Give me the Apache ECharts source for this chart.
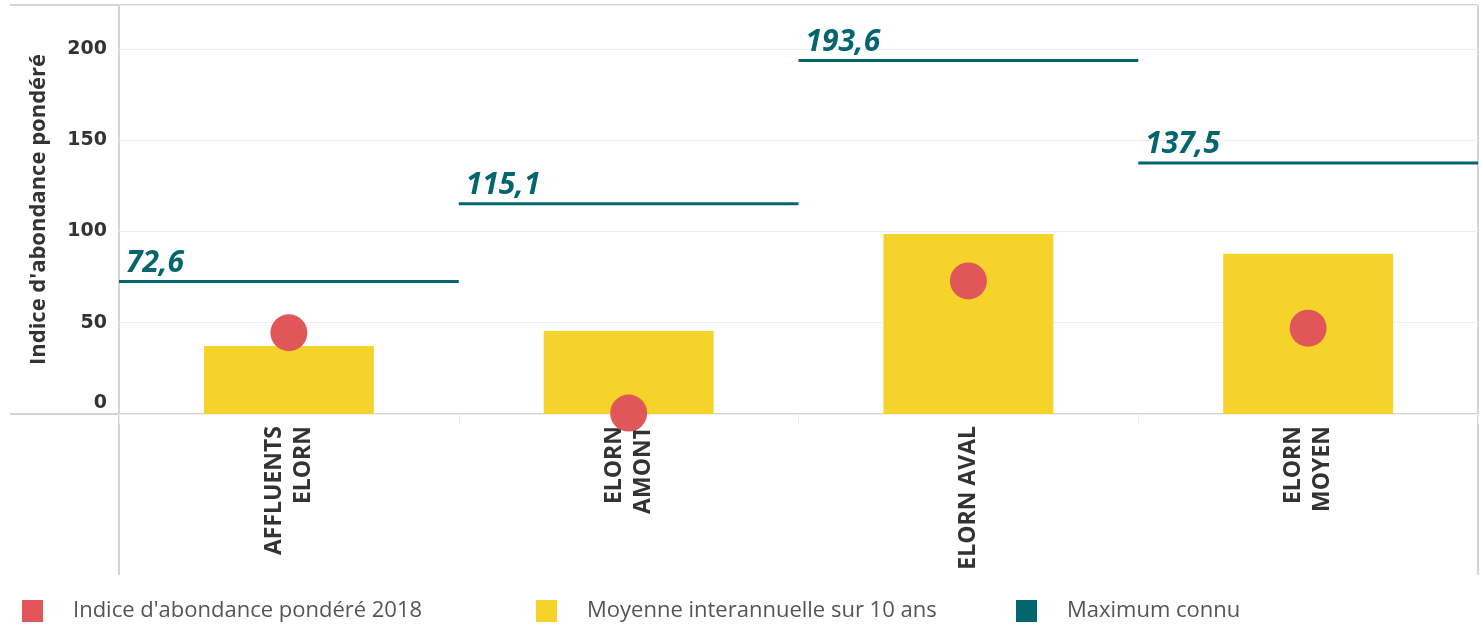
<!DOCTYPE html>
<html>
<head>
<meta charset="utf-8">
<script src="https://cdn.jsdelivr.net/npm/echarts@6/dist/echarts.min.js"></script>
<style>
  html, body { margin: 0; padding: 0; background: #fff; }
  #chart { width: 1484px; height: 626px; }
</style>
</head>
<body>
<div id="chart"></div>
<script>
// données
const stations = ['AFFLUENTS\nELORN', 'ELORN\nAMONT', 'ELORN AVAL', 'ELORN\nMOYEN']
const indice2018 = [44.5, 0.5, 72.9, 47]
const moyenne10ans = [37.3, 45.5, 98.6, 87.7]
const maximumConnu = [72.6, 115.1, 193.6, 137.5]
const yTicks = [0, 50, 100, 150, 200]

const RED = '#e15759'
const YELLOW = '#f6d32b'
const TEAL = '#03656e'
const FRAME = '#d4d4d4'

const chart = echarts.init(document.getElementById('chart'))

const frameLine = (x1, y1, x2, y2) => ({
  type: 'line',
  silent: true,
  z: 0,
  shape: { x1, y1, x2, y2 },
  style: { stroke: FRAME, lineWidth: 2 }
})

const legendText = { fontFamily: 'Open Sans', fontSize: 22, color: '#555', padding: [0, 0, 0, 25] }

const option = {
  animation: false,
  grid: {
    left: 119,
    right: 6,
    top: 5,
    bottom: 212,
    containLabel: false
  },
  graphic: [
    frameLine(10, 5, 1478, 5),
    frameLine(119, 5, 119, 575),
    frameLine(1478, 5, 1478, 575),
    frameLine(10, 414, 1478, 414)
  ],
  legend: [
    {
      left: 22, top: 600, padding: 0, itemWidth: 21, itemHeight: 22,
      data: [{ name: "Indice d'abondance pondéré 2018", icon: 'rect', itemStyle: { color: RED } }],
      textStyle: legendText
    },
    {
      left: 536, top: 600, padding: 0, itemWidth: 21, itemHeight: 22,
      data: [{ name: 'Moyenne interannuelle sur 10 ans', icon: 'rect', itemStyle: { color: YELLOW } }],
      textStyle: legendText
    },
    {
      left: 1016, top: 600, padding: 0, itemWidth: 21, itemHeight: 22,
      data: [{ name: 'Maximum connu', icon: 'rect', itemStyle: { color: TEAL } }],
      textStyle: legendText
    }
  ],
  xAxis: {
    type: 'category',
    data: stations,
    boundaryGap: true,
    axisLine: { show: false },
    axisTick: {
      show: true,
      length: 10,
      lineStyle: { color: '#eeeeee', width: 1 }
    },
    axisLabel: {
      interval: 0,
      rotate: 90,
      margin: 12,
      fontFamily: 'Open Sans',
      fontWeight: 'bold',
      fontSize: 23,
      lineHeight: 29,
      color: '#333'
    }
  },
  yAxis: {
    type: 'value',
    min: 0,
    max: 224,
    interval: 50,
    name: "Indice d'abondance pondéré",
    nameLocation: 'middle',
    nameGap: 69,
    nameTextStyle: {
      fontFamily: 'Open Sans',
      fontWeight: 'bold',
      fontSize: 22,
      color: '#333'
    },
    axisLine: { show: false },
    axisTick: { show: false },
    splitLine: {
      lineStyle: { color: '#efefef', width: 1 }
    },
    axisLabel: {
      showMaxLabel: false,
      margin: 12,
      fontFamily: 'DejaVu Sans',
      fontWeight: 'bold',
      fontSize: 19,
      color: '#333',
      formatter: v => (yTicks.includes(v) ? (v === 0 ? '{z|0}' : String(v)) : ''),
      rich: {
        z: {
          fontFamily: 'DejaVu Sans',
          fontWeight: 'bold',
          fontSize: 19,
          color: '#333',
          padding: [0, 0, 22, 0]
        }
      }
    }
  },
  series: [
    {
      name: 'Moyenne interannuelle sur 10 ans',
      type: 'bar',
      barWidth: '50%',
      itemStyle: { color: YELLOW },
      data: moyenne10ans,
      z: 2
    },
    {
      name: "Indice d'abondance pondéré 2018",
      type: 'scatter',
      symbol: 'circle',
      symbolSize: 37,
      itemStyle: { color: RED, opacity: 1 },
      data: indice2018,
      clip: true,
      z: 3
    },
    {
      name: 'Maximum connu',
      type: 'custom',
      itemStyle: { color: TEAL },
      data: maximumConnu.map((v, i) => [i, v]),
      z: 4,
      renderItem: (params, api) => {
        const p = api.coord([api.value(0), api.value(1)])
        const w = api.size([1, 0])[0]
        const label = String(api.value(1)).replace('.', ',')
        return {
          type: 'group',
          children: [
            {
              type: 'line',
              shape: { x1: p[0] - w / 2, y1: p[1], x2: p[0] + w / 2, y2: p[1] },
              style: { stroke: TEAL, lineWidth: 3 }
            },
            {
              type: 'text',
              x: p[0] - w / 2 + 7,
              y: p[1] - 3,
              style: {
                text: label,
                fill: TEAL,
                font: 'italic bold 30px "Open Sans"',
                align: 'left',
                verticalAlign: 'bottom'
              }
            }
          ]
        }
      }
    }
  ]
}

chart.setOption(option)
</script>
</body>
</html>
